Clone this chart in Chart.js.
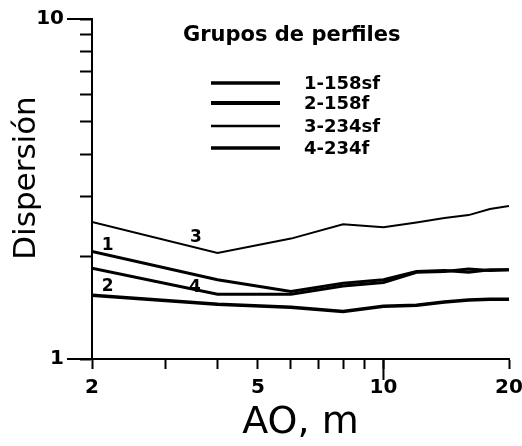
<!DOCTYPE html>
<html>
<head>
<meta charset="utf-8">
<script src="https://cdn.jsdelivr.net/npm/chart.js@4"></script>
<style>
  html, body { margin: 0; padding: 0; background: #fff; }
  #wrap { width: 522px; height: 446px; }
</style>
</head>
<body>
<div id="wrap"><canvas id="dispChart" width="522" height="446"></canvas></div>
<script>
// AO spacing (m) and dispersion for each group of profiles
const aoValues = [2, 4, 6, 8, 10, 12, 14, 16, 18, 20];
const grupo1 = [2.07, 1.71, 1.58, 1.67, 1.71, 1.81, 1.82, 1.80, 1.83, 1.83];
const grupo2 = [1.54, 1.45, 1.42, 1.38, 1.43, 1.44, 1.47, 1.49, 1.50, 1.50];
const grupo3 = [2.53, 2.05, 2.26, 2.49, 2.44, 2.52, 2.60, 2.65, 2.76, 2.82];
const grupo4 = [1.85, 1.55, 1.55, 1.64, 1.68, 1.80, 1.81, 1.84, 1.82, 1.83];
const seriesNames = ['1-158sf', '2-158f', '3-234sf', '4-234f'];
const xTicks = [2, 3, 4, 5, 6, 7, 8, 9, 10, 20];
const xLabeled = [2, 5, 10, 20];
const yTicks = [1, 2, 3, 4, 5, 6, 7, 8, 9, 10];
const yLabeled = [1, 10];

// curve numbers written on the plot (data coords)
const curveTags = [
  {text: '1', x: 2.18, y: 2.16},
  {text: '2', x: 2.18, y: 1.63},
  {text: '3', x: 3.55, y: 2.28},
  {text: '4', x: 3.53, y: 1.62}
];

const pts = arr => aoValues.map((a, i) => ({x: a, y: arr[i]}));

const extrasPlugin = {
  id: 'extras',
  afterDraw(chart) {
    const {ctx, scales: {x, y}} = chart;
    ctx.save();
    ctx.strokeStyle = '#000';
    ctx.lineWidth = 2;

    // longer major ticks
    ctx.beginPath();
    [1, 10].forEach(v => {
      const py = y.getPixelForValue(v);
      ctx.moveTo(x.left, py); ctx.lineTo(x.left - 25, py);
    });
    const p10 = x.getPixelForValue(10);
    ctx.moveTo(p10, y.bottom); ctx.lineTo(p10, y.bottom + 21);
    ctx.stroke();

    // y axis title
    ctx.fillStyle = '#000';
    ctx.save();
    ctx.translate(27, 178);
    ctx.rotate(-Math.PI / 2);
    ctx.font = '31px "DejaVu Sans"';
    ctx.textAlign = 'center';
    ctx.textBaseline = 'middle';
    ctx.fillText('Dispersión', 0, 0);
    ctx.restore();

    // curve numbers
    ctx.font = 'bold 17px "DejaVu Sans"';
    ctx.textAlign = 'center';
    ctx.textBaseline = 'middle';
    curveTags.forEach(t => ctx.fillText(t.text, x.getPixelForValue(t.x), y.getPixelForValue(t.y)));

    // legend box
    ctx.textAlign = 'left';
    ctx.font = 'bold 21px "DejaVu Sans"';
    ctx.fillText('Grupos de perfiles', 183, 36);
    const rowsY = [83, 103, 126, 148];
    ctx.font = 'bold 18px "DejaVu Sans"';
    chart.data.datasets.forEach((ds, i) => {
      ctx.lineWidth = ds.borderWidth + 0.5;
      ctx.beginPath();
      ctx.moveTo(211, rowsY[i]); ctx.lineTo(280, rowsY[i]);
      ctx.stroke();
      ctx.fillText(ds.label, 304, rowsY[i] + 1);
    });
    ctx.restore();
  }
};

const tickFont = {family: 'DejaVu Sans', size: 20, weight: 'bold'};

new Chart(document.getElementById('dispChart').getContext('2d'), {
  type: 'line',
  data: {
    datasets: [
      {label: seriesNames[0], data: pts(grupo1), borderWidth: 3},
      {label: seriesNames[1], data: pts(grupo2), borderWidth: 3.5},
      {label: seriesNames[2], data: pts(grupo3), borderWidth: 2},
      {label: seriesNames[3], data: pts(grupo4), borderWidth: 3}
    ]
  },
  options: {
    responsive: false,
    animation: false,
    layout: {padding: {top: 19, right: 13, left: 0, bottom: 0}},
    plugins: {legend: {display: false}, tooltip: {enabled: false}},
    elements: {
      point: {radius: 0},
      line: {tension: 0, borderColor: '#000', fill: false}
    },
    scales: {
      x: {
        type: 'logarithmic', min: 2, max: 20,
        afterBuildTicks: s => { s.ticks = xTicks.map(v => ({value: v})); },
        afterFit: s => { s.height = 87; s.paddingLeft = 0; s.paddingRight = 0; },
        grid: {drawOnChartArea: false, drawTicks: true, tickLength: 10, tickWidth: 2, color: '#000'},
        border: {display: true, color: '#000', width: 2},
        ticks: {
          autoSkip: false, maxRotation: 0, padding: 7, color: '#000', font: tickFont,
          callback: v => xLabeled.includes(v) ? String(v) : ''
        },
        title: {display: true, text: 'AO, m', color: '#000',
                font: {family: 'DejaVu Sans', size: 38}, padding: {top: 0, bottom: 0}}
      },
      y: {
        type: 'logarithmic', min: 1, max: 10,
        afterBuildTicks: s => { s.ticks = yTicks.map(v => ({value: v})); },
        afterFit: s => { s.width = 92; s.paddingTop = 0; s.paddingBottom = 0; },
        grid: {drawOnChartArea: false, drawTicks: true, tickLength: 12, tickWidth: 2, color: '#000'},
        border: {display: true, color: '#000', width: 2},
        ticks: {
          autoSkip: false, padding: 16, color: '#000', font: tickFont,
          callback: v => yLabeled.includes(v) ? String(v) : ''
        },
        title: {display: false}
      }
    }
  },
  plugins: [extrasPlugin]
});
</script>
</body>
</html>
